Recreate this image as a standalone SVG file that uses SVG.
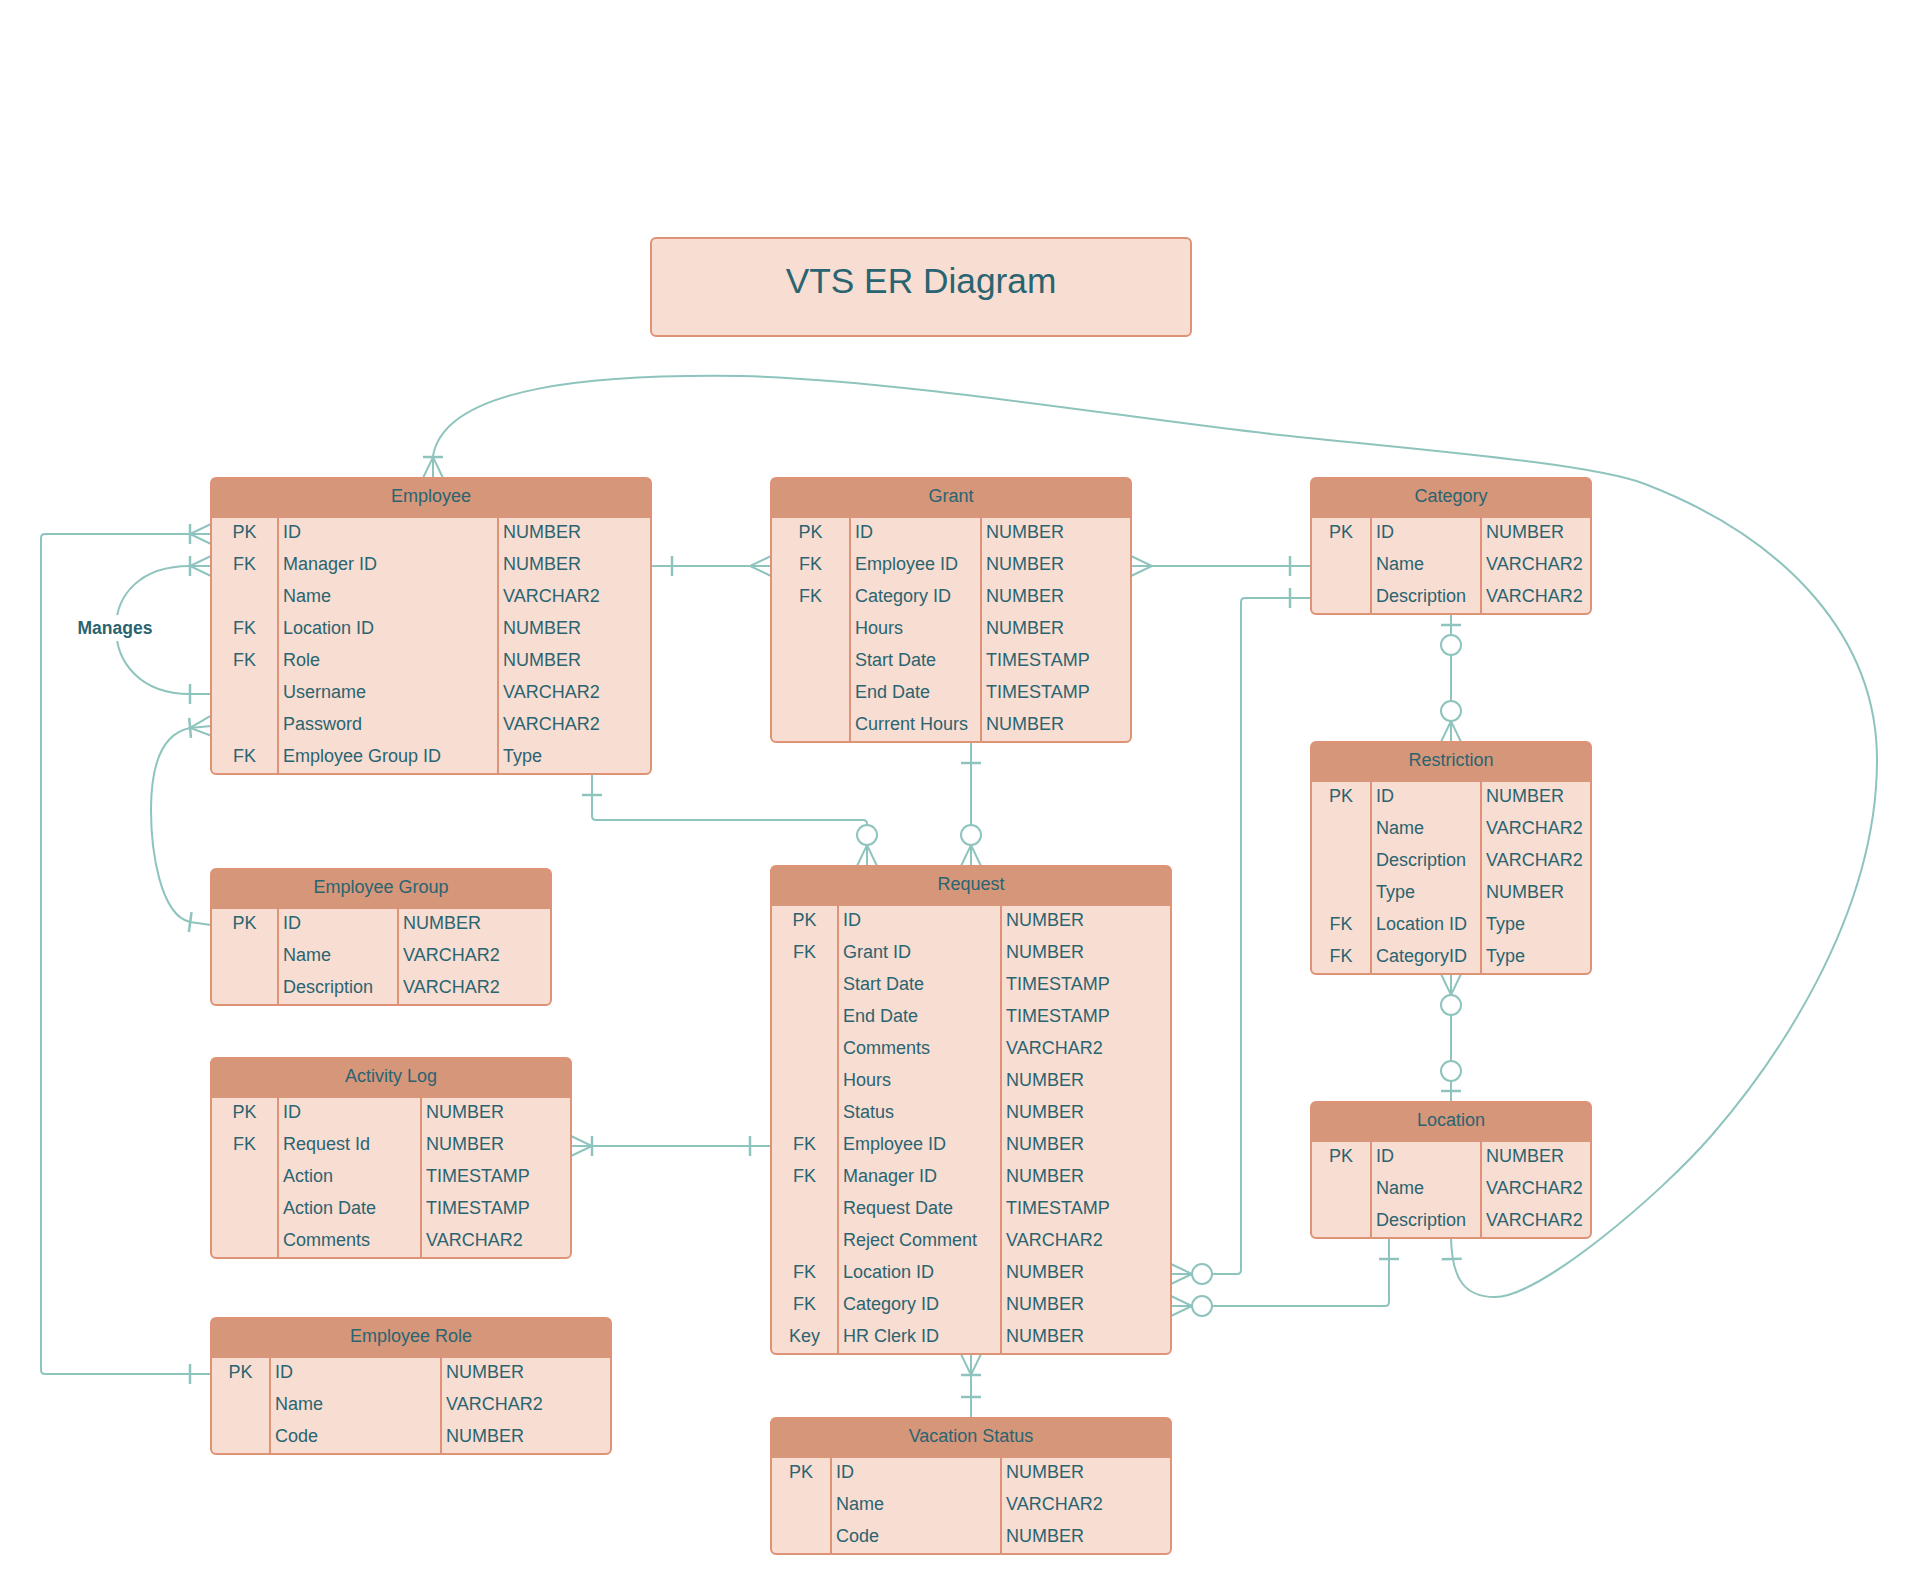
<svg xmlns="http://www.w3.org/2000/svg" width="1917" height="1594" viewBox="0 0 1917 1594">
<style>
.tb{fill:#f8ddd2}
.hd{fill:#d6967a}
.ol{fill:none;stroke:#de9276;stroke-width:2}
.dv{stroke:#de9276;stroke-width:2}
.t{font-family:"Liberation Sans",Arial,sans-serif;font-size:18px;fill:#2a6470}
.m{text-anchor:middle}
.cn{fill:none;stroke:#8ec4bd;stroke-width:2}
.lbl{font-family:"Liberation Sans",Arial,sans-serif;font-size:17.5px;font-weight:bold;fill:#2a6470;text-anchor:middle}
.ttl{font-family:"Liberation Sans",Arial,sans-serif;font-size:35.3px;fill:#2a6470;text-anchor:middle}
</style>
<defs>
<path id="crow" d="M0,-10 L-21,0 L0,10" fill="none" stroke="#8ec4bd" stroke-width="2"/>
<path id="tick" d="M-21,-10 V10" fill="none" stroke="#8ec4bd" stroke-width="2.5"/>
<path id="tick11" d="M-11,-10 V10" fill="none" stroke="#8ec4bd" stroke-width="2.5"/>
<circle id="circ" cx="-31" cy="0" r="10" fill="#ffffff" stroke="#8ec4bd" stroke-width="2"/>
</defs>
<rect width="1917" height="1594" fill="#ffffff"/>

<g id="title">
<rect x="651" y="238" width="540" height="98" rx="5" fill="#f8ddd2" stroke="#de9276" stroke-width="2"/>
<text class="ttl" x="921" y="293">VTS ER Diagram</text>
</g>

<g id="connectors">
<!-- C1 Employee.ID -> Employee Role.ID -->
<path class="cn" d="M211,534 H45 Q41,534 41,538 V1370 Q41,1374 45,1374 H211"/>
<use href="#crow" transform="translate(211,534)"/>
<use href="#tick" transform="translate(211,534)"/>
<use href="#tick" transform="translate(211,1374)"/>
<!-- C2 Manages self relation -->
<path class="cn" d="M211,566 H190 C140,566 116,595 116,628 C116,662 140,694 190,694 H211"/>
<use href="#crow" transform="translate(211,566)"/>
<use href="#tick" transform="translate(211,566)"/>
<use href="#tick" transform="translate(211,694)"/>
<!-- C3 Employee.Password -> Employee Group -->
<path class="cn" d="M211,726 L190,728 C160,734 151,770 151,810 C151,850 160,915 190,922 L211,925"/>
<use href="#crow" transform="translate(211,726) rotate(-5)"/>
<use href="#tick" transform="translate(211,726) rotate(-5)"/>
<use href="#tick" transform="translate(211,925) rotate(8)"/>
<!-- C4 Employee -> Grant -->
<path class="cn" d="M651,566 H771"/>
<use href="#tick" transform="translate(651,566) rotate(180)"/>
<use href="#crow" transform="translate(771,566)"/>
<!-- C5 Grant -> Category -->
<path class="cn" d="M1131,566 H1311"/>
<use href="#crow" transform="translate(1131,566) rotate(180)"/>
<use href="#tick" transform="translate(1311,566)"/>
<!-- C6 Category -> Request.Location ID -->
<path class="cn" d="M1311,598 H1245 Q1241,598 1241,602 V1270 Q1241,1274 1237,1274 H1171"/>
<use href="#tick" transform="translate(1311,598)"/>
<use href="#crow" transform="translate(1171,1274) rotate(180)"/>
<use href="#circ" transform="translate(1171,1274) rotate(180)"/>
<!-- C7 Request.Category ID -> Location -->
<path class="cn" d="M1171,1306 H1385 Q1389,1306 1389,1302 V1238"/>
<use href="#crow" transform="translate(1171,1306) rotate(180)"/>
<use href="#circ" transform="translate(1171,1306) rotate(180)"/>
<use href="#tick" transform="translate(1389,1238) rotate(-90)"/>
<!-- C8 Category -> Restriction -->
<path class="cn" d="M1451,614 V742"/>
<use href="#tick11" transform="translate(1451,614) rotate(-90)"/>
<use href="#circ" transform="translate(1451,614) rotate(-90)"/>
<use href="#crow" transform="translate(1451,742) rotate(90)"/>
<use href="#circ" transform="translate(1451,742) rotate(90)"/>
<!-- C9 Restriction -> Location -->
<path class="cn" d="M1451,974 V1102"/>
<use href="#crow" transform="translate(1451,974) rotate(-90)"/>
<use href="#circ" transform="translate(1451,974) rotate(-90)"/>
<use href="#tick11" transform="translate(1451,1102) rotate(90)"/>
<use href="#circ" transform="translate(1451,1102) rotate(90)"/>
<!-- C10 Location -> Employee (long curve) -->
<path class="cn" d="M1451,1238 C1452,1280 1465,1297 1495,1297 C1540,1297 1660,1195 1712,1135 C1770,1068 1877,920 1877,760 C1877,640 1790,540 1645,484 C1590,463 1420,450 1280,435 C1140,420 900,380 742,376 C600,374 445,385 433,456 L433,478"/>
<use href="#tick" transform="translate(1451,1238) rotate(-92)"/>
<use href="#crow" transform="translate(433,478) rotate(90)"/>
<use href="#tick" transform="translate(433,478) rotate(90)"/>
<!-- C11 Employee -> Request -->
<path class="cn" d="M592,774 V816 Q592,820 596,820 H863 Q867,820 867,824 V866"/>
<use href="#tick" transform="translate(592,774) rotate(-90)"/>
<use href="#crow" transform="translate(867,866) rotate(90)"/>
<use href="#circ" transform="translate(867,866) rotate(90)"/>
<!-- C12 Grant -> Request -->
<path class="cn" d="M971,742 V866"/>
<use href="#tick" transform="translate(971,742) rotate(-90)"/>
<use href="#crow" transform="translate(971,866) rotate(90)"/>
<use href="#circ" transform="translate(971,866) rotate(90)"/>
<!-- C13 Activity Log -> Request -->
<path class="cn" d="M571,1146 H771"/>
<use href="#crow" transform="translate(571,1146) rotate(180)"/>
<use href="#tick" transform="translate(571,1146) rotate(180)"/>
<use href="#tick" transform="translate(771,1146)"/>
<!-- C14 Request -> Vacation Status -->
<path class="cn" d="M971,1354 V1418"/>
<use href="#crow" transform="translate(971,1354) rotate(-90)"/>
<use href="#tick" transform="translate(971,1354) rotate(-90)"/>
<use href="#tick" transform="translate(971,1418) rotate(90)"/>
<!-- Manages label -->
<rect x="76" y="615" width="78" height="26" fill="#ffffff"/>
<text class="lbl" x="115" y="634">Manages</text>
</g>

<g id="employee">
<rect class="tb" x="211" y="478" width="440" height="296" rx="5"/>
<path class="hd" d="M211,518 V483 Q211,478 216,478 H646 Q651,478 651,483 V518 Z"/>
<line class="dv" x1="278" y1="518" x2="278" y2="774"/>
<line class="dv" x1="498" y1="518" x2="498" y2="774"/>
<rect class="ol" x="211" y="478" width="440" height="296" rx="5"/>
<text class="t m" x="431" y="502">Employee</text>
<text class="t m" x="244.5" y="538">PK</text><text class="t" x="283" y="538">ID</text><text class="t" x="503" y="538">NUMBER</text>
<text class="t m" x="244.5" y="570">FK</text><text class="t" x="283" y="570">Manager ID</text><text class="t" x="503" y="570">NUMBER</text>
<text class="t" x="283" y="602">Name</text><text class="t" x="503" y="602">VARCHAR2</text>
<text class="t m" x="244.5" y="634">FK</text><text class="t" x="283" y="634">Location ID</text><text class="t" x="503" y="634">NUMBER</text>
<text class="t m" x="244.5" y="666">FK</text><text class="t" x="283" y="666">Role</text><text class="t" x="503" y="666">NUMBER</text>
<text class="t" x="283" y="698">Username</text><text class="t" x="503" y="698">VARCHAR2</text>
<text class="t" x="283" y="730">Password</text><text class="t" x="503" y="730">VARCHAR2</text>
<text class="t m" x="244.5" y="762">FK</text><text class="t" x="283" y="762">Employee Group ID</text><text class="t" x="503" y="762">Type</text>
</g>

<g id="grant">
<rect class="tb" x="771" y="478" width="360" height="264" rx="5"/>
<path class="hd" d="M771,518 V483 Q771,478 776,478 H1126 Q1131,478 1131,483 V518 Z"/>
<line class="dv" x1="850" y1="518" x2="850" y2="742"/>
<line class="dv" x1="981" y1="518" x2="981" y2="742"/>
<rect class="ol" x="771" y="478" width="360" height="264" rx="5"/>
<text class="t m" x="951" y="502">Grant</text>
<text class="t m" x="810.5" y="538">PK</text><text class="t" x="855" y="538">ID</text><text class="t" x="986" y="538">NUMBER</text>
<text class="t m" x="810.5" y="570">FK</text><text class="t" x="855" y="570">Employee ID</text><text class="t" x="986" y="570">NUMBER</text>
<text class="t m" x="810.5" y="602">FK</text><text class="t" x="855" y="602">Category ID</text><text class="t" x="986" y="602">NUMBER</text>
<text class="t" x="855" y="634">Hours</text><text class="t" x="986" y="634">NUMBER</text>
<text class="t" x="855" y="666">Start Date</text><text class="t" x="986" y="666">TIMESTAMP</text>
<text class="t" x="855" y="698">End Date</text><text class="t" x="986" y="698">TIMESTAMP</text>
<text class="t" x="855" y="730">Current Hours</text><text class="t" x="986" y="730">NUMBER</text>
</g>

<g id="category">
<rect class="tb" x="1311" y="478" width="280" height="136" rx="5"/>
<path class="hd" d="M1311,518 V483 Q1311,478 1316,478 H1586 Q1591,478 1591,483 V518 Z"/>
<line class="dv" x1="1371" y1="518" x2="1371" y2="614"/>
<line class="dv" x1="1481" y1="518" x2="1481" y2="614"/>
<rect class="ol" x="1311" y="478" width="280" height="136" rx="5"/>
<text class="t m" x="1451" y="502">Category</text>
<text class="t m" x="1341" y="538">PK</text><text class="t" x="1376" y="538">ID</text><text class="t" x="1486" y="538">NUMBER</text>
<text class="t" x="1376" y="570">Name</text><text class="t" x="1486" y="570">VARCHAR2</text>
<text class="t" x="1376" y="602">Description</text><text class="t" x="1486" y="602">VARCHAR2</text>
</g>

<g id="restriction">
<rect class="tb" x="1311" y="742" width="280" height="232" rx="5"/>
<path class="hd" d="M1311,782 V747 Q1311,742 1316,742 H1586 Q1591,742 1591,747 V782 Z"/>
<line class="dv" x1="1371" y1="782" x2="1371" y2="974"/>
<line class="dv" x1="1481" y1="782" x2="1481" y2="974"/>
<rect class="ol" x="1311" y="742" width="280" height="232" rx="5"/>
<text class="t m" x="1451" y="766">Restriction</text>
<text class="t m" x="1341" y="802">PK</text><text class="t" x="1376" y="802">ID</text><text class="t" x="1486" y="802">NUMBER</text>
<text class="t" x="1376" y="834">Name</text><text class="t" x="1486" y="834">VARCHAR2</text>
<text class="t" x="1376" y="866">Description</text><text class="t" x="1486" y="866">VARCHAR2</text>
<text class="t" x="1376" y="898">Type</text><text class="t" x="1486" y="898">NUMBER</text>
<text class="t m" x="1341" y="930">FK</text><text class="t" x="1376" y="930">Location ID</text><text class="t" x="1486" y="930">Type</text>
<text class="t m" x="1341" y="962">FK</text><text class="t" x="1376" y="962">CategoryID</text><text class="t" x="1486" y="962">Type</text>
</g>

<g id="location">
<rect class="tb" x="1311" y="1102" width="280" height="136" rx="5"/>
<path class="hd" d="M1311,1142 V1107 Q1311,1102 1316,1102 H1586 Q1591,1102 1591,1107 V1142 Z"/>
<line class="dv" x1="1371" y1="1142" x2="1371" y2="1238"/>
<line class="dv" x1="1481" y1="1142" x2="1481" y2="1238"/>
<rect class="ol" x="1311" y="1102" width="280" height="136" rx="5"/>
<text class="t m" x="1451" y="1126">Location</text>
<text class="t m" x="1341" y="1162">PK</text><text class="t" x="1376" y="1162">ID</text><text class="t" x="1486" y="1162">NUMBER</text>
<text class="t" x="1376" y="1194">Name</text><text class="t" x="1486" y="1194">VARCHAR2</text>
<text class="t" x="1376" y="1226">Description</text><text class="t" x="1486" y="1226">VARCHAR2</text>
</g>

<g id="employee-group">
<rect class="tb" x="211" y="869" width="340" height="136" rx="5"/>
<path class="hd" d="M211,909 V874 Q211,869 216,869 H546 Q551,869 551,874 V909 Z"/>
<line class="dv" x1="278" y1="909" x2="278" y2="1005"/>
<line class="dv" x1="398" y1="909" x2="398" y2="1005"/>
<rect class="ol" x="211" y="869" width="340" height="136" rx="5"/>
<text class="t m" x="381" y="893">Employee Group</text>
<text class="t m" x="244.5" y="929">PK</text><text class="t" x="283" y="929">ID</text><text class="t" x="403" y="929">NUMBER</text>
<text class="t" x="283" y="961">Name</text><text class="t" x="403" y="961">VARCHAR2</text>
<text class="t" x="283" y="993">Description</text><text class="t" x="403" y="993">VARCHAR2</text>
</g>

<g id="activity-log">
<rect class="tb" x="211" y="1058" width="360" height="200" rx="5"/>
<path class="hd" d="M211,1098 V1063 Q211,1058 216,1058 H566 Q571,1058 571,1063 V1098 Z"/>
<line class="dv" x1="278" y1="1098" x2="278" y2="1258"/>
<line class="dv" x1="421" y1="1098" x2="421" y2="1258"/>
<rect class="ol" x="211" y="1058" width="360" height="200" rx="5"/>
<text class="t m" x="391" y="1082">Activity Log</text>
<text class="t m" x="244.5" y="1118">PK</text><text class="t" x="283" y="1118">ID</text><text class="t" x="426" y="1118">NUMBER</text>
<text class="t m" x="244.5" y="1150">FK</text><text class="t" x="283" y="1150">Request Id</text><text class="t" x="426" y="1150">NUMBER</text>
<text class="t" x="283" y="1182">Action</text><text class="t" x="426" y="1182">TIMESTAMP</text>
<text class="t" x="283" y="1214">Action Date</text><text class="t" x="426" y="1214">TIMESTAMP</text>
<text class="t" x="283" y="1246">Comments</text><text class="t" x="426" y="1246">VARCHAR2</text>
</g>

<g id="employee-role">
<rect class="tb" x="211" y="1318" width="400" height="136" rx="5"/>
<path class="hd" d="M211,1358 V1323 Q211,1318 216,1318 H606 Q611,1318 611,1323 V1358 Z"/>
<line class="dv" x1="270" y1="1358" x2="270" y2="1454"/>
<line class="dv" x1="441" y1="1358" x2="441" y2="1454"/>
<rect class="ol" x="211" y="1318" width="400" height="136" rx="5"/>
<text class="t m" x="411" y="1342">Employee Role</text>
<text class="t m" x="240.5" y="1378">PK</text><text class="t" x="275" y="1378">ID</text><text class="t" x="446" y="1378">NUMBER</text>
<text class="t" x="275" y="1410">Name</text><text class="t" x="446" y="1410">VARCHAR2</text>
<text class="t" x="275" y="1442">Code</text><text class="t" x="446" y="1442">NUMBER</text>
</g>

<g id="request">
<rect class="tb" x="771" y="866" width="400" height="488" rx="5"/>
<path class="hd" d="M771,906 V871 Q771,866 776,866 H1166 Q1171,866 1171,871 V906 Z"/>
<line class="dv" x1="838" y1="906" x2="838" y2="1354"/>
<line class="dv" x1="1001" y1="906" x2="1001" y2="1354"/>
<rect class="ol" x="771" y="866" width="400" height="488" rx="5"/>
<text class="t m" x="971" y="890">Request</text>
<text class="t m" x="804.5" y="926">PK</text><text class="t" x="843" y="926">ID</text><text class="t" x="1006" y="926">NUMBER</text>
<text class="t m" x="804.5" y="958">FK</text><text class="t" x="843" y="958">Grant ID</text><text class="t" x="1006" y="958">NUMBER</text>
<text class="t" x="843" y="990">Start Date</text><text class="t" x="1006" y="990">TIMESTAMP</text>
<text class="t" x="843" y="1022">End Date</text><text class="t" x="1006" y="1022">TIMESTAMP</text>
<text class="t" x="843" y="1054">Comments</text><text class="t" x="1006" y="1054">VARCHAR2</text>
<text class="t" x="843" y="1086">Hours</text><text class="t" x="1006" y="1086">NUMBER</text>
<text class="t" x="843" y="1118">Status</text><text class="t" x="1006" y="1118">NUMBER</text>
<text class="t m" x="804.5" y="1150">FK</text><text class="t" x="843" y="1150">Employee ID</text><text class="t" x="1006" y="1150">NUMBER</text>
<text class="t m" x="804.5" y="1182">FK</text><text class="t" x="843" y="1182">Manager ID</text><text class="t" x="1006" y="1182">NUMBER</text>
<text class="t" x="843" y="1214">Request Date</text><text class="t" x="1006" y="1214">TIMESTAMP</text>
<text class="t" x="843" y="1246">Reject Comment</text><text class="t" x="1006" y="1246">VARCHAR2</text>
<text class="t m" x="804.5" y="1278">FK</text><text class="t" x="843" y="1278">Location ID</text><text class="t" x="1006" y="1278">NUMBER</text>
<text class="t m" x="804.5" y="1310">FK</text><text class="t" x="843" y="1310">Category ID</text><text class="t" x="1006" y="1310">NUMBER</text>
<text class="t m" x="804.5" y="1342">Key</text><text class="t" x="843" y="1342">HR Clerk ID</text><text class="t" x="1006" y="1342">NUMBER</text>
</g>

<g id="vacation-status">
<rect class="tb" x="771" y="1418" width="400" height="136" rx="5"/>
<path class="hd" d="M771,1458 V1423 Q771,1418 776,1418 H1166 Q1171,1418 1171,1423 V1458 Z"/>
<line class="dv" x1="831" y1="1458" x2="831" y2="1554"/>
<line class="dv" x1="1001" y1="1458" x2="1001" y2="1554"/>
<rect class="ol" x="771" y="1418" width="400" height="136" rx="5"/>
<text class="t m" x="971" y="1442">Vacation Status</text>
<text class="t m" x="801" y="1478">PK</text><text class="t" x="836" y="1478">ID</text><text class="t" x="1006" y="1478">NUMBER</text>
<text class="t" x="836" y="1510">Name</text><text class="t" x="1006" y="1510">VARCHAR2</text>
<text class="t" x="836" y="1542">Code</text><text class="t" x="1006" y="1542">NUMBER</text>
</g>
</svg>
